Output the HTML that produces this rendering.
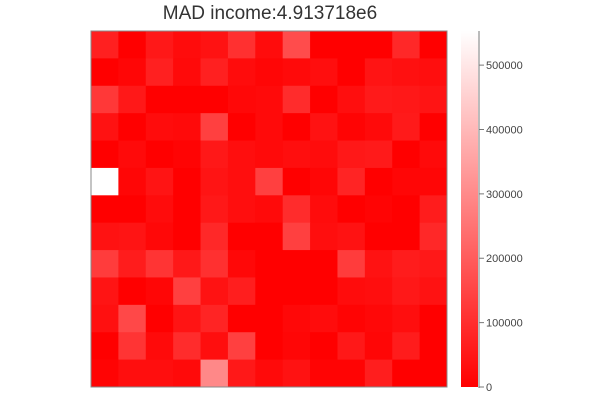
<!DOCTYPE html>
<html><head><meta charset="utf-8"><style>
html,body{margin:0;padding:0;background:#fff;}
svg{display:block;font-family:"Liberation Sans",sans-serif;}
</style></head><body>
<svg id="chart" width="600" height="400" viewBox="0 0 600 400" xmlns="http://www.w3.org/2000/svg">
<defs><linearGradient id="cb" x1="0" y1="1" x2="0" y2="0"><stop offset="0" stop-color="#ff0000"/><stop offset="1" stop-color="#ffffff"/></linearGradient></defs>
<text x="270" y="19" font-size="19" text-anchor="middle" fill="#333">MAD income:4.913718e6</text>
<g id="cells"></g>
<rect x="91" y="31" width="356" height="356" fill="none" stroke="#888" stroke-width="1"/>
<rect x="461" y="31" width="17" height="356" fill="url(#cb)"/>
<line x1="479" y1="31" x2="479" y2="388" stroke="#777" stroke-width="1"/>
<g id="cbticks"></g>
</svg>
<script>
const rowsCount = 13;
const colsCount = 13;
const levels = [
[32,0,24,12,18,48,12,76,0,0,0,40,0],
[0,6,32,10,32,12,6,10,14,0,20,16,14],
[56,24,0,0,0,8,10,44,0,14,26,24,20],
[18,0,12,10,64,0,10,0,18,4,10,26,0],
[0,10,0,4,24,14,10,14,12,24,26,0,10],
[255,6,20,0,20,14,64,0,6,36,0,6,6],
[0,0,12,0,24,14,10,44,12,0,4,0,28],
[18,20,8,0,40,0,0,64,14,18,0,0,40],
[60,28,52,24,48,8,0,0,0,60,18,28,24],
[20,0,6,64,18,30,0,0,0,12,14,24,18],
[16,72,0,20,36,0,0,8,12,4,8,14,0],
[0,52,10,44,14,64,0,6,0,24,6,28,0],
[4,14,14,10,136,24,10,18,4,4,30,0,0]
];
const values = levels.map(r => r.map(g => Math.round(g * 553000 / 255)));
const tickValues = [0,100000,200000,300000,400000,500000];
const tickLabels = ["0","100000","200000","300000","400000","500000"];
const vmin = 0, vmax = 553000;

const NS = "http://www.w3.org/2000/svg";
const x0 = 91, y0 = 31, W = 356, H = 356;
const cw = W / colsCount, ch = H / rowsCount;
function xPos(c){ return x0 + c * cw; }
function yPos(r){ return y0 + r * ch; }
function colorOf(v){
  const t = Math.max(0, Math.min(1, (v - vmin) / (vmax - vmin)));
  const g = Math.round(255 * t);
  return `rgb(255,${g},${g})`;
}
function cbY(v){ return 387 - (v - vmin) / (vmax - vmin) * 356; }

const cells = document.getElementById('cells');
for (let r = 0; r < rowsCount; r++) {
  for (let c = 0; c < colsCount; c++) {
    const rect = document.createElementNS(NS, 'rect');
    
    
    rect.setAttribute('x', xPos(c));
    rect.setAttribute('y', yPos(r));
    rect.setAttribute('width', cw + 0.5);
    rect.setAttribute('height', ch + 0.5);
    rect.setAttribute('fill', colorOf(values[r][c]));
    cells.appendChild(rect);
  }
}
const tk = document.getElementById('cbticks');
tickValues.forEach((v, i) => {
  const y = cbY(v);
  const ln = document.createElementNS(NS, 'line');
  
  
  ln.setAttribute('x1', 479); ln.setAttribute('x2', 484);
  ln.setAttribute('y1', y); ln.setAttribute('y2', y);
  ln.setAttribute('stroke', '#777');
  tk.appendChild(ln);
  const tx = document.createElementNS(NS, 'text');
  
  
  tx.setAttribute('x', 486); tx.setAttribute('y', y + 4);
  tx.setAttribute('font-size', '11');
  tx.setAttribute('fill', '#444');
  tx.textContent = tickLabels[i];
  tk.appendChild(tx);
});
</script>
</body></html>
